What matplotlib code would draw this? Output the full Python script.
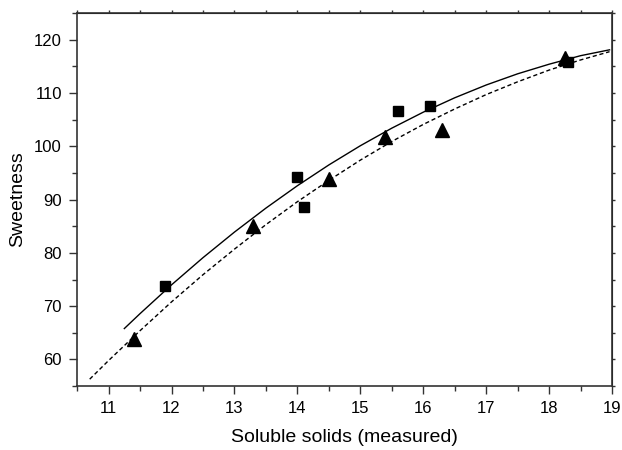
import matplotlib
matplotlib.use("Agg")
import matplotlib.pyplot as plt
from matplotlib.ticker import MultipleLocator, NullFormatter

plt.rcParams['font.family'] = ['Liberation Sans', 'DejaVu Sans']

# measured points
sq_x = [11.9, 14.0, 14.1, 15.6, 16.1, 18.3]
sq_y = [73.7, 94.2, 88.6, 106.7, 107.6, 115.8]
tri_x = [11.4, 13.3, 14.5, 15.4, 16.3, 18.25]
tri_y = [63.8, 85.1, 93.9, 101.8, 103.0, 116.6]

# fitted curves
solid_x = [11.25, 11.5, 12.0, 12.5, 13.0, 13.5, 14.0, 14.5, 15.0, 15.5,
           16.0, 16.5, 17.0, 17.5, 18.0, 18.5, 18.96]
solid_y = [65.8, 68.6, 74.0, 79.1, 83.9, 88.4, 92.6, 96.5, 100.1, 103.4,
           106.4, 109.1, 111.5, 113.6, 115.4, 117.0, 118.1]
dash_x = [10.7, 11.0, 11.5, 12.0, 12.5, 13.0, 13.5, 14.0, 14.5, 15.0,
          15.5, 16.0, 16.5, 17.0, 17.5, 18.0, 18.5, 18.96]
dash_y = [56.3, 59.8, 65.4, 70.8, 75.9, 80.7, 85.3, 89.6, 93.6, 97.4,
          100.9, 104.1, 107.0, 109.7, 112.1, 114.3, 116.2, 117.75]

fig = plt.figure(figsize=(6.22, 4.5), dpi=100)
ax = fig.add_axes([0.124, 0.142, 0.86, 0.829])

ax.plot(solid_x, solid_y, color='black', lw=1.0)
ax.plot(dash_x, dash_y, color='black', lw=1.0, linestyle=(0, (3, 2)))
ax.plot(sq_x, sq_y, 's', color='black', ms=7.2, linestyle='none')
ax.plot(tri_x, tri_y, '^', color='black', ms=9.5, linestyle='none')

ax.set_xlim(10.5, 19)
ax.set_ylim(55, 125)
ax.xaxis.set_major_locator(MultipleLocator(1))
ax.xaxis.set_minor_locator(MultipleLocator(0.5))
ax.yaxis.set_major_locator(MultipleLocator(10))
ax.yaxis.set_minor_locator(MultipleLocator(5))
ax.tick_params(which='major', direction='out', length=6, width=1, color='#333333', labelsize=12, pad=5)
ax.tick_params(which='minor', direction='out', length=3.5, width=1, color='#333333')

for side in ['left', 'right', 'top', 'bottom']:
    ax.spines[side].set_color('#333333')
    ax.spines[side].set_linewidth(1.2)

top = ax.secondary_xaxis('top')
top.xaxis.set_major_locator(MultipleLocator(0.5))
top.xaxis.set_major_formatter(NullFormatter())
top.tick_params(direction='out', length=2.5, width=1, color='#333333')
right = ax.secondary_yaxis('right')
right.yaxis.set_major_locator(MultipleLocator(5))
right.yaxis.set_major_formatter(NullFormatter())
right.tick_params(direction='out', length=2.5, width=1, color='#333333')

ax.set_xlabel("Soluble solids (measured)", fontsize=14, labelpad=9)
ax.set_ylabel("Sweetness", fontsize=14, labelpad=6)

fig.savefig("out.png", dpi=100)
